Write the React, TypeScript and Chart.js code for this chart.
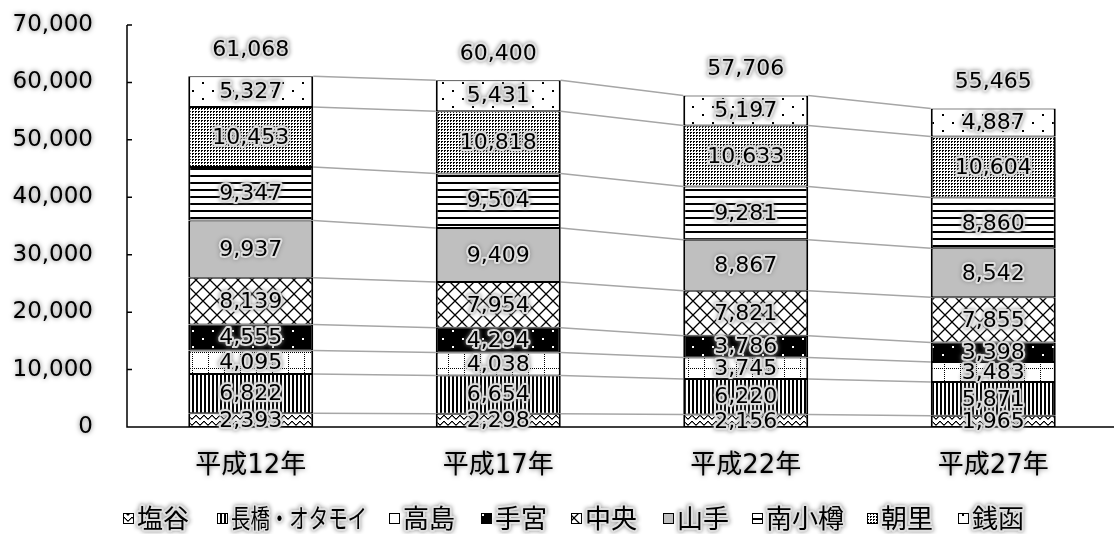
import React, { useEffect, useRef } from 'react';
import { Chart, registerables } from 'chart.js';

Chart.register(...registerables);

const categories = ['平成12年', '平成17年', '平成22年', '平成27年'];
const seriesNames = ['塩谷', '長橋・オタモイ', '高島', '手宮', '中央', '山手', '南小樽', '朝里', '銭函'];
const shioya = [2393, 2298, 2156, 1965];
const nagahashi = [6822, 6654, 6220, 5871];
const takashima = [4095, 4038, 3745, 3483];
const temiya = [4555, 4294, 3786, 3398];
const chuo = [8139, 7954, 7821, 7855];
const yamate = [9937, 9409, 8867, 8542];
const minamiOtaru = [9347, 9504, 9281, 8860];
const asari = [10453, 10818, 10633, 10604];
const zenibako = [5327, 5431, 5197, 4887];
const totals = [61068, 60400, 57706, 55465];
const yMin = 0;
const yMax = 70000;
const yStep = 10000;

const LATIN = "'DejaVu Sans', 'Noto Sans CJK JP', sans-serif";
const GLOW = 'rgba(140,140,140,1)';

function tile(w: number, h: number, draw: (g: CanvasRenderingContext2D) => void): CanvasPattern {
  const c = document.createElement('canvas');
  c.width = w;
  c.height = h;
  const g = c.getContext('2d')!;
  draw(g);
  return g.createPattern(c, 'repeat')!;
}

function makeFills(): (CanvasPattern | string)[] {
  const wave = tile(8, 6, (g) => {
    g.fillStyle = '#fff';
    g.fillRect(0, 0, 8, 6);
    g.fillStyle = '#000';
    const ys = [4, 3, 2, 1, 1, 2, 3, 4];
    ys.forEach((y, x) => g.fillRect(x, y, 1, 1.5));
  });
  const vert = tile(4, 1, (g) => {
    g.fillStyle = '#fff';
    g.fillRect(0, 0, 4, 1);
    g.fillStyle = '#000';
    g.fillRect(0, 0, 2, 1);
  });
  const dotGrid = tile(16, 16, (g) => {
    g.fillStyle = '#fff';
    g.fillRect(0, 0, 16, 16);
    g.fillStyle = '#000';
    for (let i = 0; i < 16; i += 2) {
      g.fillRect(i, 0, 1, 1);
      g.fillRect(0, i, 1, 1);
    }
  });
  const darkDots = tile(20, 16, (g) => {
    g.fillStyle = '#000';
    g.fillRect(0, 0, 20, 16);
    g.fillStyle = '#fff';
    g.fillRect(2, 2, 2, 2);
    g.fillRect(12, 10, 2, 2);
  });
  const diamond = tile(14, 14, (g) => {
    g.fillStyle = '#fff';
    g.fillRect(0, 0, 14, 14);
    g.strokeStyle = '#000';
    g.lineWidth = 1.3;
    g.beginPath();
    g.moveTo(0, 0);
    g.lineTo(14, 14);
    g.moveTo(14, 0);
    g.lineTo(0, 14);
    g.stroke();
  });
  const horiz = tile(1, 7, (g) => {
    g.fillStyle = '#fff';
    g.fillRect(0, 0, 1, 7);
    g.fillStyle = '#000';
    g.fillRect(0, 0, 1, 2);
  });
  const dense = tile(3, 3, (g) => {
    g.fillStyle = '#fff';
    g.fillRect(0, 0, 3, 3);
    g.fillStyle = '#000';
    g.fillRect(0, 0, 2, 1);
    g.fillRect(0, 1, 1, 1);
  });
  const lightDots = tile(20, 16, (g) => {
    g.fillStyle = '#fff';
    g.fillRect(0, 0, 20, 16);
    g.fillStyle = '#000';
    g.fillRect(2, 2, 2, 2);
    g.fillRect(12, 10, 2, 2);
  });
  return [wave, vert, dotGrid, darkDots, diamond, '#bfbfbf', horiz, dense, lightDots];
}

function glowText(ctx: CanvasRenderingContext2D, text: string, x: number, y: number, maxWidth?: number) {
  ctx.save();
  ctx.lineJoin = 'round';
  ctx.shadowColor = GLOW;
  ctx.shadowBlur = 4;
  ctx.strokeStyle = 'rgba(225,225,225,0.95)';
  ctx.lineWidth = 4;
  if (maxWidth) ctx.strokeText(text, x, y, maxWidth);
  else ctx.strokeText(text, x, y);
  ctx.shadowColor = 'transparent';
  ctx.shadowBlur = 0;
  ctx.fillStyle = '#000';
  if (maxWidth) ctx.fillText(text, x, y, maxWidth);
  else ctx.fillText(text, x, y);
  ctx.restore();
}

const fmt = (v: number) => v.toLocaleString('en-US');

export default function App() {
  const ref = useRef<HTMLCanvasElement>(null);

  useEffect(() => {
    const canvas = ref.current!;
    const fills = makeFills();
    const seriesValues = [shioya, nagahashi, takashima, temiya, chuo, yamate, minamiOtaru, asari, zenibako];
    const legendBoxX = [123, 217, 389, 481, 571, 663, 752, 867, 958];

    const datasets = seriesNames.map((name, i) => ({
      label: name,
      data: seriesValues[i],
      backgroundColor: fills[i] as any,
      borderColor: '#000',
      borderWidth: { left: 2, right: 2, top: 1, bottom: 1 },
      borderSkipped: false as any,
      barPercentage: 0.505,
      categoryPercentage: 1,
    }));

    const plugin = {
      id: 'decor',
      beforeDraw(chart: any) {
        const c = chart.ctx;
        c.save();
        c.shadowColor = 'rgba(110,110,110,1)';
        c.shadowBlur = 5;
      },
      beforeDatasetsDraw(chart: any) {
        const c: CanvasRenderingContext2D = chart.ctx;
        c.restore();
        c.save();
        c.strokeStyle = '#a6a6a6';
        c.lineWidth = 1.5;
        for (let d = 0; d < datasets.length; d++) {
          const meta = chart.getDatasetMeta(d);
          for (let i = 0; i < meta.data.length - 1; i++) {
            const a = meta.data[i] as any;
            const b = meta.data[i + 1] as any;
            c.beginPath();
            c.moveTo(a.x + a.width / 2, a.y);
            c.lineTo(b.x - b.width / 2, b.y);
            c.stroke();
          }
        }
        c.restore();
      },
      afterDatasetsDraw(chart: any) {
        const c: CanvasRenderingContext2D = chart.ctx;
        const area = chart.chartArea;
        const ys = chart.scales.y;
        c.save();
        c.strokeStyle = '#000';
        c.lineWidth = 1.5;
        c.beginPath();
        c.moveTo(area.left, area.top);
        c.lineTo(area.left, area.bottom);
        c.lineTo(area.right, area.bottom);
        for (let v = yMin; v <= yMax; v += yStep) {
          const py = ys.getPixelForValue(v);
          c.moveTo(area.left, py);
          c.lineTo(area.left + 5, py);
        }
        c.stroke();
        c.restore();
        c.save();
        c.font = `22px ${LATIN}`;
        c.textAlign = 'center';
        c.textBaseline = 'middle';
        for (let d = 0; d < datasets.length; d++) {
          const meta = chart.getDatasetMeta(d);
          meta.data.forEach((el: any, i: number) => {
            const cy = (el.y + el.base) / 2;
            glowText(c, fmt(seriesValues[d][i]), el.x, cy + 1);
          });
        }
        const top = chart.getDatasetMeta(datasets.length - 1);
        top.data.forEach((el: any, i: number) => {
          glowText(c, fmt(totals[i]), el.x, el.y - 26);
        });
        c.restore();
      },
      afterDraw(chart: any) {
        const c: CanvasRenderingContext2D = chart.ctx;
        c.save();
        c.font = `26px ${LATIN}`;
        c.textAlign = 'left';
        c.textBaseline = 'middle';
        seriesNames.forEach((name, i) => {
          const bx = legendBoxX[i];
          c.fillStyle = fills[i] as any;
          c.fillRect(bx, 513, 10, 10);
          c.strokeStyle = '#000';
          c.lineWidth = 1;
          c.strokeRect(bx + 0.5, 513.5, 10, 10);
          const tx = bx + 14;
          const next = i < seriesNames.length - 1 ? legendBoxX[i + 1] : 2000;
          glowText(c, name, tx, 521, next - tx - 22);
        });
        c.restore();
      },
    };

    const chart = new Chart(canvas, {
      type: 'bar',
      data: { labels: categories, datasets },
      options: {
        animation: false,
        responsive: false,
        maintainAspectRatio: false,
        layout: { padding: { left: 0, right: 3, top: 25, bottom: 0 } },
        plugins: { legend: { display: false }, tooltip: { enabled: false } },
        scales: {
          x: {
            stacked: true,
            grid: { display: false, drawTicks: false },
            border: { display: false },
            ticks: { color: '#000', font: { family: LATIN, size: 26 }, padding: 24, maxRotation: 0 },
            afterFit: (s: any) => {
              s.height = 107;
              s.paddingLeft = 0;
              s.paddingRight = 0;
            },
          },
          y: {
            stacked: true,
            min: yMin,
            max: yMax,
            grid: { display: false, drawTicks: false },
            border: { display: false },
            ticks: {
              stepSize: yStep,
              color: '#000',
              font: { family: LATIN, size: 23 },
              padding: 34,
              callback: (v: any) => fmt(Number(v)),
            },
            afterFit: (s: any) => {
              s.width = 127;
              s.paddingTop = 0;
              s.paddingBottom = 0;
            },
          },
        },
      },
      plugins: [plugin],
    });
    return () => chart.destroy();
  }, []);

  return (
    <div style={{ position: 'fixed', left: 0, top: 0, width: 1114, height: 534, overflow: 'hidden', background: '#fff' }}>
      <canvas ref={ref} width={1120} height={534} style={{ display: 'block', width: 1120, height: 534 }} />
    </div>
  );
}
